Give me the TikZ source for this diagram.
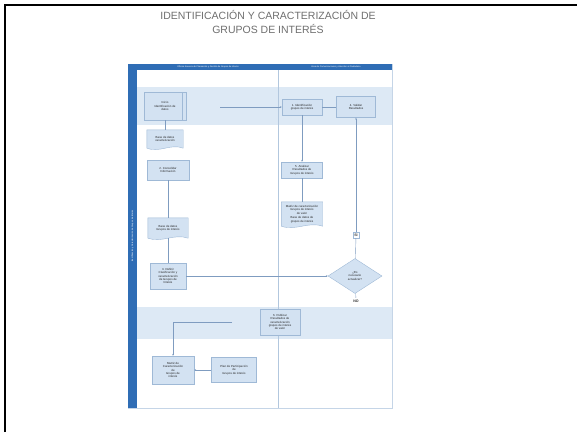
\documentclass[tikz,border=0pt]{standalone}
\usepackage{fontspec}
\setmainfont{Liberation Sans}
\usepackage{tikz}
\usetikzlibrary{positioning, arrows.meta, calc, shapes.geometric, backgrounds}
\definecolor{lanebar}{HTML}{2F6DB5}
\definecolor{bandblue}{HTML}{DDE9F5}
\definecolor{boxblue}{HTML}{D3E2F2}
\definecolor{boxedge}{HTML}{9FB9D6}
\definecolor{flowline}{HTML}{7F9CC0}
\definecolor{titlegray}{HTML}{6E6E6E}

\begin{document}
\begin{tikzpicture}[x=1pt, y=-1pt,
    proc/.style={draw=boxedge, fill=boxblue, inner sep=1pt, align=center,
                 font=\fontsize{2.9}{3.4}\selectfont, text=black!85},
    docbox/.style={inner sep=1pt, align=center,
                   font=\fontsize{2.9}{3.4}\selectfont, text=black!85},
    decision/.style={diamond, draw=boxedge, fill=boxblue, inner sep=0pt, align=center,
                     font=\fontsize{2.9}{3.4}\selectfont, text=black!85},
    lanehead/.style={text=white, inner sep=0pt, font=\fontsize{2.2}{2.6}\selectfont},
    tag/.style={draw=boxedge, fill=white, inner sep=1pt, minimum size=6,
                font=\fontsize{3.6}{4}\selectfont\bfseries, text=black!80},
    flow/.style={draw=flowline, line width=0.4pt},
    arr/.style={flow, -{Stealth[length=2pt, width=1.6pt]}},
]
\useasboundingbox (0,0) rectangle (577,432);
% marco de la diapositiva
\draw[line width=1.5pt] (5,432) -- (5,5) -- (577,5);
\node[font=\fontsize{10.5}{14}\selectfont, text=titlegray, align=center] (title) at (268,22)
  {IDENTIFICACIÓN Y CARACTERIZACIÓN DE\\GRUPOS DE INTERÉS};

% carriles
\fill[bandblue] (137,87) rectangle (392,125);
\fill[bandblue] (137,307) rectangle (392,339);
\draw[boxedge!60] (128,64) rectangle (392,408);
\draw[boxedge!80] (278,70) -- (278,408);
\fill[lanebar] (128,64) rectangle (392,70);
\fill[lanebar] (128,64) rectangle (137,408);
\node[lanehead] (hizq) at (208,67) {Oficina Asesora de Planeación y Gestión de Grupos de Interés};
\node[lanehead] (hder) at (336,67) {Área de Comunicaciones y Atención al Ciudadano};
\node[lanehead, rotate=90] (hpool) at (132.5,236) {Identificación y Caracterización de Grupos de Interés};

% actividades
\node[proc, minimum width=42, minimum height=28] (datos) at (165,106)
  {Inicio\\Identificación de\\datos};
\draw[boxedge] ($(datos.north east)+(-4,0)$) -- ($(datos.south east)+(-4,0)$);
\node[docbox, minimum width=36, minimum height=18] (basedatos) at (165,139)
  {Base de datos\\caracterización};
\node[proc, minimum width=42, minimum height=20] (consolidar) at (168,170)
  {2. Consolidar\\Información};
\node[docbox, minimum width=40, minimum height=20] (basegrupos) at (168,228)
  {Base de datos\\Grupos de interés};
\node[proc, minimum width=36, minimum height=26] (definir) at (168,276)
  {3. Definir\\Clasificación y\\caracterización\\de Grupos de\\Interés};
\node[decision, minimum width=54, minimum height=35] (actualizar) at (355,276)
  {¿Es\\necesario\\actualizar?};
\node[proc, minimum width=40, minimum height=16] (identificar) at (302,107)
  {1. Identificación\\grupos de interés};
\node[proc, minimum width=39, minimum height=21] (validar) at (356,107)
  {4. Validar\\Resultados};
\node[proc, minimum width=41, minimum height=16] (analizar) at (302,170)
  {5. Analizar\\Resultados de\\Grupos de interés};
\node[docbox, minimum width=41, minimum height=24] (matriz) at (302,214)
  {Matriz de caracterización\\Grupos de interés\\de valor\\[1pt]Base de datos de\\grupos de interés};
\node[proc, minimum width=40, minimum height=26] (publicar) at (280,322)
  {6. Publicar\\Resultados de\\caracterización\\grupos de interés\\de valor};
\node[proc, minimum width=42, minimum height=28] (caracterizacion) at (173,370)
  {Matriz de\\Caracterización\\de\\Grupos de\\interés};
\node[proc, minimum width=45, minimum height=25] (plan) at (234,370)
  {Plan de Participación\\de\\Grupos de interés};
\node[tag] (si) at (356,235) {SI};
\node[tag, draw=none, fill=none] (no) at (356,301) {NO};

\begin{scope}[on background layer]
\foreach \d in {basedatos, basegrupos, matriz}
  \filldraw[draw=boxedge, fill=boxblue] (\d.north west) -- (\d.north east) -- (\d.south east)
    .. controls ($(\d.south)+(6,-5)$) and ($(\d.south)+(-6,5)$) .. (\d.south west) -- cycle;
\end{scope}

% conectores
\coordinate (entrada) at (220,107);
\coordinate (salida) at (232,322);
\draw[arr] (entrada) -- (identificar);
\draw[flow] (identificar) -- (validar);
\draw[flow] (datos) -- (basedatos);
\draw[arr] (identificar) -- (analizar);
\draw[flow] (analizar) -- (matriz);
\draw[arr] (si) -- (validar);
\draw[flow] (actualizar) -- (si);
\draw[flow] (consolidar) -- (basegrupos);
\draw[flow] (basegrupos) -- (definir);
\draw[arr] (definir) -- (actualizar);
\draw[flow] (actualizar) -- (no);
\draw[arr] (salida) -| (caracterizacion);
\draw[arr] (plan) -- (caracterizacion);
\end{tikzpicture}
\end{document}
